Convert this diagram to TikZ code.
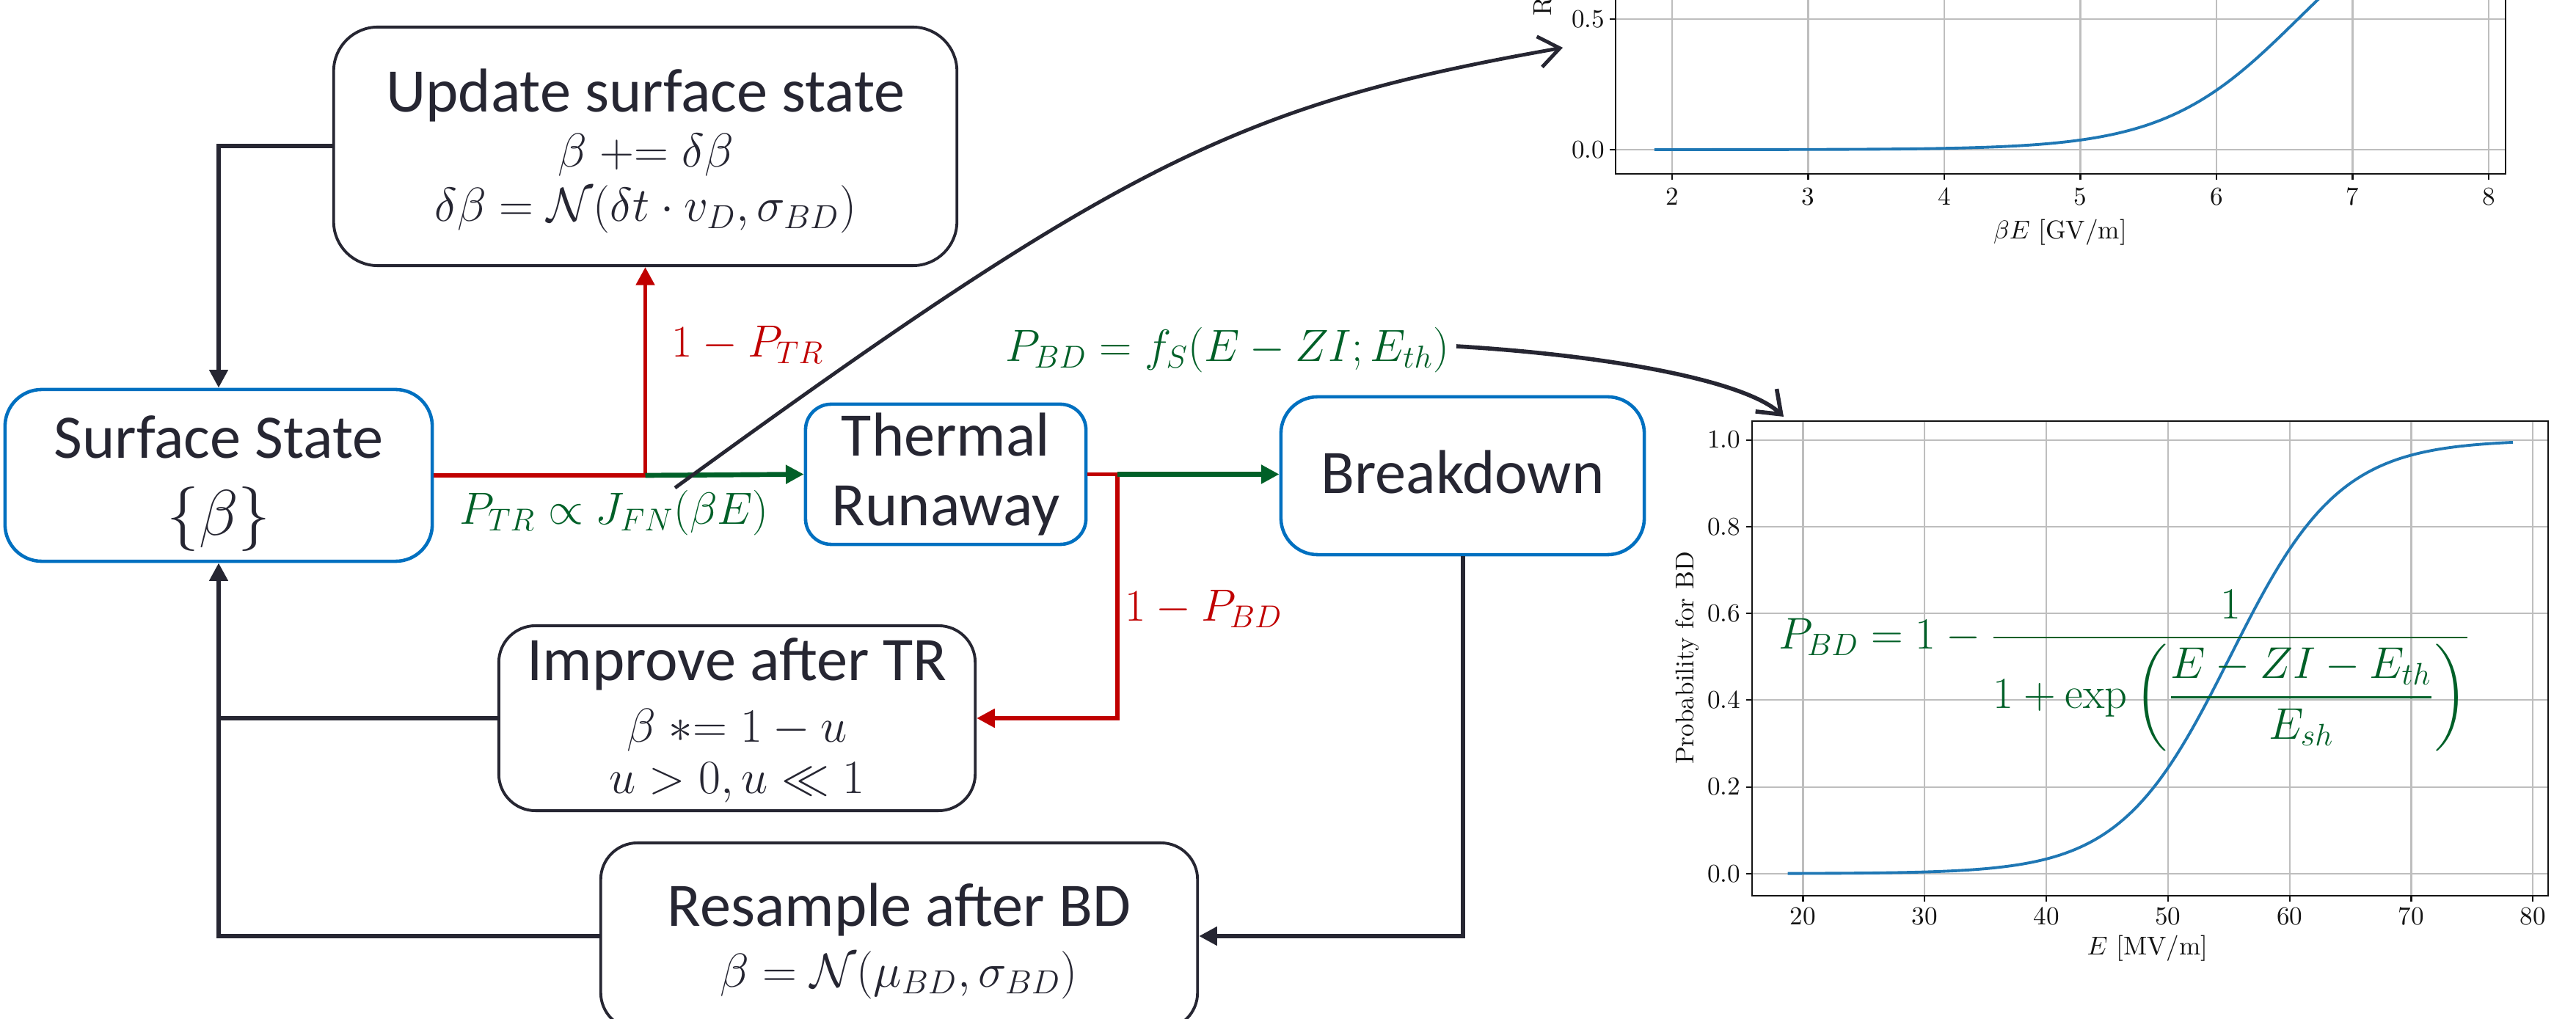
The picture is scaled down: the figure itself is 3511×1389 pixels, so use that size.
\RequirePackage{fix-cm}
\documentclass[tikz,border=0pt]{standalone}
\usepackage{amsmath}
\usepackage[no-math]{fontspec}
\setmainfont{Carlito}
\newfontfamily\lmfont{Latin Modern Roman}
\usetikzlibrary{arrows.meta}
\definecolor{ink}{RGB}{38,38,50}
\definecolor{boxblue}{RGB}{0,112,192}
\definecolor{pred}{RGB}{192,0,0}
\definecolor{pgreen}{RGB}{0,96,40}
\definecolor{mplblue}{RGB}{31,119,180}
\definecolor{gridgray}{RGB}{190,190,190}
\definecolor{axisblack}{RGB}{20,20,20}
\tikzset{
  bluebox/.style={draw=boxblue, line width=1.3pt, rounded corners=0.5cm, fill=white, inner sep=0pt},
  blackbox/.style={draw=ink, line width=1.1pt, rounded corners=0.5cm, fill=white, inner sep=0pt},
  boxtitle/.style={font=\fontsize{24}{28}\selectfont, text=ink, anchor=base, inner sep=0pt},
  boxmath/.style={font=\fontsize{18.5}{22}\selectfont, text=ink, anchor=base, inner sep=0pt},
  redlbl/.style={font=\fontsize{17.5}{21}\selectfont, text=pred, inner sep=0pt},
  greenlbl/.style={font=\fontsize{17.5}{21}\selectfont, text=pgreen, inner sep=0pt},
  tip/.style={-{Triangle[length=7pt,width=7pt]}},
  flowblack/.style={draw=ink, line width=1.7pt},
  flowred/.style={draw=pred, line width=1.7pt},
  flowgreen/.style={draw=pgreen, line width=1.9pt},
  pointer/.style={draw=ink, line width=1.4pt, -{Straight Barb[length=8pt,width=12pt]}},
  gridline/.style={draw=gridgray, line width=0.6pt},
  spine/.style={draw=axisblack, line width=0.6pt},
  ticklbl/.style={font=\lmfont\fontsize{10}{12}\selectfont, text=axisblack, inner sep=0pt},
  mplcurve/.style={draw=mplblue, line width=1.1pt}
}
\begin{document}
\begin{tikzpicture}[x=0.01cm,y=-0.01cm]
\useasboundingbox (0,0) rectangle (3511,1389);
\clip (0,0) rectangle (3511,1389);

% ---------------- top plot -----------------
\foreach \k in {2,...,8} {
  \draw[gridline] ({2279+(\k-2)*185.5},-20) -- ({2279+(\k-2)*185.5},237);
  \draw[spine] ({2279+(\k-2)*185.5},237) -- ({2279+(\k-2)*185.5},245);
  \node[ticklbl, anchor=north] (tpx\k) at ({2279+(\k-2)*185.5},255) {\k};
}
\draw[gridline] (2202,204) -- (3415,204);
\draw[gridline] (2202,25.7) -- (3415,25.7);
\draw[spine] (2202,204) -- (2194,204);
\draw[spine] (2202,25.7) -- (2194,25.7);
\node[ticklbl, anchor=east] (tpy0) at (2188,204) {0.0};
\node[ticklbl, anchor=east] (tpy5) at (2188,25.7) {0.5};
\node[ticklbl, rotate=90, anchor=base west] (tpylab) at (2114,22) {R};
\node[ticklbl] (tpxlab) at (2808,317) {$\beta E$ [GV/m]};
\draw[mplcurve] plot[domain=1.87:7.9, samples=150] ({2279+(\x-2)*185.5},{204-178.3*(1+tanh((\x-6.6)/0.98))});
\draw[spine] (2202,-20) -- (2202,237) -- (3415,237) -- (3415,-20);

% ---------------- bottom plot -----------------
\foreach \k/\lab in {0/20,1/30,2/40,3/50,4/60,5/70,6/80} {
  \draw[gridline] ({2457.5+\k*165.8},574) -- ({2457.5+\k*165.8},1221);
  \draw[spine] ({2457.5+\k*165.8},1221) -- ({2457.5+\k*165.8},1229);
  \node[ticklbl, anchor=north] (bpx\k) at ({2457.5+\k*165.8},1236) {\lab};
}
\foreach \k/\lab in {0/0.0,1/0.2,2/0.4,3/0.6,4/0.8,5/1.0} {
  \draw[gridline] (2388,{1190.8-\k*118.24}) -- (3473,{1190.8-\k*118.24});
  \draw[spine] (2388,{1190.8-\k*118.24}) -- (2380,{1190.8-\k*118.24});
  \node[ticklbl, anchor=east] (bpy\k) at (2373,{1190.8-\k*118.24}) {\lab};
}
\node[ticklbl] (bpxlab) at (2927,1293) {$E$ [MV/m]};
\node[ticklbl, rotate=90] (bpylab) at (2300,897) {Probability for BD};
\draw[mplcurve] plot[domain=18.74:78.35, samples=150] ({2457.5+(\x-20)*16.58},{1190.8-295.6*(1+tanh((\x-55.1)/9))});
\draw[spine] (2388,574) rectangle (3473,1221);
\node[greenlbl, anchor=west, font=\fontsize{17.2}{21}\selectfont] (pbdformula) at (2424,914)
  {$\displaystyle P_{BD} = 1 - \frac{1}{1+\exp\left(\dfrac{E-ZI-E_{th}}{E_{sh}}\right)}$};

% ---------------- boxes -----------------
\node[blackbox, minimum width=8.49cm, minimum height=3.25cm, rounded corners=0.6cm] (up) at (879.5,199.5) {};
\node[boxtitle] (upt1) at (880,153) {Update surface state};
\node[boxmath] (upt2) at (880,228) {$\beta \mathrel{+}= \delta\beta$};
\node[boxmath] (upt3) at (880,302) {$\delta\beta = \mathcal{N}(\delta t\cdot v_D, \sigma_{BD})$};

\node[bluebox, minimum width=5.82cm, minimum height=2.34cm] (ss) at (298,648) {};
\node[boxtitle] (sst1) at (298,625) {Surface State};
\node[boxtitle, anchor=center, font=\fontsize{25}{30}\selectfont] (sst2) at (298,708) {$\{\beta\}$};

\node[bluebox, minimum width=3.82cm, minimum height=1.91cm, rounded corners=0.35cm] (tr) at (1289,646.5) {};
\node[boxtitle] (trt1) at (1289,622) {Thermal};
\node[boxtitle] (trt2) at (1289,717) {Runaway};

\node[bluebox, minimum width=4.95cm, minimum height=2.15cm] (bd) at (1993.5,648.5) {};
\node[boxtitle] (bdt1) at (1993.5,673) {Breakdown};

\node[blackbox, minimum width=6.49cm, minimum height=2.52cm] (imp) at (1004.5,979) {};
\node[boxtitle] (impt1) at (1004.5,928) {Improve after TR};
\node[boxmath] (impt2) at (1004.5,1012) {$\beta \mathrel{*}= 1-u$};
\node[boxmath] (impt3) at (1004.5,1082) {$u>0, u\ll 1$};

\node[blackbox, minimum width=8.13cm, minimum height=2.54cm] (rs) at (1225.5,1276) {};
\node[boxtitle] (rst1) at (1225.5,1263) {Resample after BD};
\node[boxmath] (rst2) at (1225.5,1345) {$\beta = \mathcal{N}(\mu_{BD}, \sigma_{BD})$};

% ---------------- connectors -----------------
\coordinate (j1) at (ss.east -| up.south);
\coordinate (j2) at (1523,646.5);
\draw[flowblack, tip] (up.west) -| (ss.north);
\draw[flowred] (ss.east) -- (j1);
\draw[flowred, tip] (j1) -- (up.south);
\draw[flowgreen, tip] (j1) -- (tr.west);
\draw[flowred] (tr.east) -- (j2);
\draw[flowred, tip] (j2) |- (imp.east);
\draw[flowgreen, tip] (j2) -- (bd.west |- j2);
\draw[flowblack, tip] (bd.south) |- (rs.east);
\draw[flowblack, tip] (rs.west) -| (ss.south);
\draw[flowblack] (imp.west) -- (imp.west -| ss.south);

% ---------------- labels -----------------
\node[redlbl, anchor=west] (l1ptr) at (915,470) {$1-P_{TR}$};
\node[greenlbl] (lptr) at (837,699) {$P_{TR} \propto J_{FN}(\beta E)$};
\node[greenlbl] (lpbd) at (1673,477) {$P_{BD} = f_S(E-ZI; E_{th})$};
\node[redlbl, anchor=west] (l1pbd) at (1533,830) {$1-P_{BD}$};

% ---------------- pointer curves -----------------
\coordinate (c9s) at (920,665);
\coordinate (c9e) at (2130,65);
\coordinate (c10s) at (1985,472);
\coordinate (c10e) at (2431,568);
\draw[pointer] (c9s) .. controls (1540,213) and (1700,141) .. (c9e);
\draw[pointer, line width=1.6pt] (c10s) .. controls (2200,485) and (2380,520) .. (c10e);
\end{tikzpicture}
\end{document}
